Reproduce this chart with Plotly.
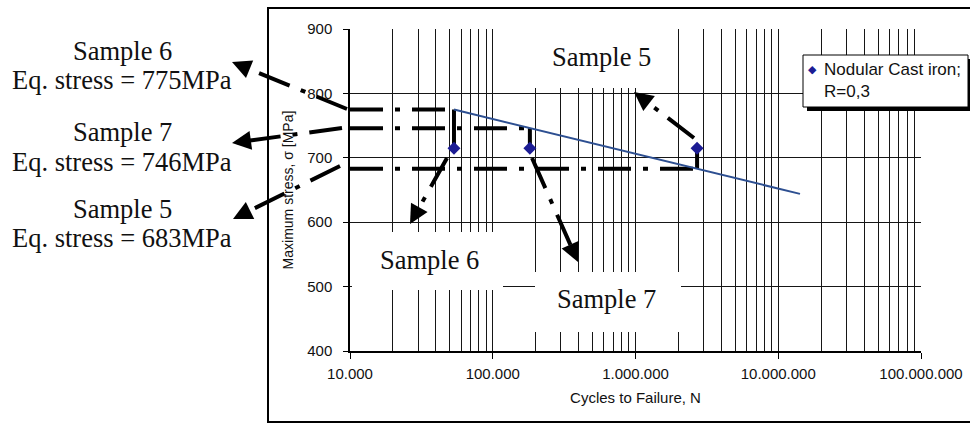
import plotly.graph_objects as go

# ---------------- data ----------------
sample_names = ["Sample 6", "Sample 7", "Sample 5"]
cycles_to_failure = [53500, 182000, 2700000]
max_stress = [715, 715, 715]
eq_stress = [775, 746, 683]
trend_cycles = [53500, 14200000]
trend_stress = [775, 644]
x_tick_vals = [1e4, 1e5, 1e6, 1e7, 1e8]
x_tick_text = ["10.000", "100.000", "1.000.000", "10.000.000", "100.000.000"]
y_tick_vals = [400, 500, 600, 700, 800, 900]
series_name = ["Nodular Cast iron;", "R=0,3"]
x_title = "Cycles to Failure, N"
y_title = "Maximum stress, σ [MPa]"

# ---------------- layout helpers (pixel -> paper) ----------------
W, H = 970, 425
L, R, T, B = 350, 921, 29, 351


def px(x):
    return (x - L) / (R - L)


def py(y):
    return (B - y) / (B - T)


DASHDOT = "33px,12px,5px,12px"
GRID = "#161616"
SANS = "Liberation Sans, Arial, sans-serif"
SERIF = "Liberation Serif, Times New Roman, serif"
MARKER_COLOR = "#1c1c94"

fig = go.Figure()

# equivalent-stress reference lines
for n, eq, mx in zip(cycles_to_failure, eq_stress, max_stress):
    fig.add_trace(go.Scatter(x=[x_tick_vals[0], n], y=[eq, eq], mode="lines",
                             line=dict(color="black", width=4, dash=DASHDOT),
                             showlegend=False, hoverinfo="skip"))
    fig.add_trace(go.Scatter(x=[n, n], y=[eq, mx], mode="lines",
                             line=dict(color="black", width=4),
                             showlegend=False, hoverinfo="skip"))

# trend line
fig.add_trace(go.Scatter(x=trend_cycles, y=trend_stress, mode="lines",
                         line=dict(color="#2d4f91", width=2),
                         showlegend=False, hoverinfo="skip"))

# data points
fig.add_trace(go.Scatter(x=cycles_to_failure, y=max_stress, mode="markers",
                         marker=dict(symbol="diamond", size=10, color=MARKER_COLOR),
                         name=" ".join(series_name), text=sample_names,
                         showlegend=False))

shapes = []
annotations = []

# white boxes behind in-plot labels (hide gridlines)
for (x0, x1, y0, y1) in [(525, 678, 26, 88), (352, 503, 232, 290), (535, 681, 272, 332)]:
    shapes.append(dict(type="rect", xref="paper", yref="paper",
                       x0=px(x0), x1=px(x1), y0=py(y1), y1=py(y0),
                       line=dict(width=0), fillcolor="white", layer="above"))

# outer frame
shapes.append(dict(type="rect", xref="paper", yref="paper",
                   x0=px(268), x1=px(975), y0=py(422), y1=py(8),
                   line=dict(color="black", width=2), fillcolor="rgba(0,0,0,0)",
                   layer="above"))

# legend box with shadow
shapes.append(dict(type="rect", xref="paper", yref="paper",
                   x0=px(807), x1=px(975), y0=py(111), y1=py(59),
                   line=dict(width=0), fillcolor="black", layer="above"))
shapes.append(dict(type="rect", xref="paper", yref="paper",
                   x0=px(803), x1=px(968), y0=py(107), y1=py(55),
                   line=dict(color="black", width=1), fillcolor="white", layer="above"))
annotations.append(dict(x=px(812), y=py(69), xref="paper", yref="paper",
                        text="◆", showarrow=False, xanchor="center", yanchor="middle",
                        font=dict(family="DejaVu Sans", size=11, color=MARKER_COLOR)))
for txt, yy in zip(series_name, [69, 91]):
    annotations.append(dict(x=px(822), y=py(yy), xref="paper", yref="paper",
                            text=txt, showarrow=False, xanchor="left", yanchor="middle",
                            font=dict(family=SANS, size=17, color="#111")))

# dash-dot arrows (tail -> head) in pixels
arrows = [
    ((347, 109), (232, 62)),
    ((342, 128), (232, 143)),
    ((340, 166), (233, 219)),
    ((447, 158), (410, 224)),
    ((532, 158), (578, 262)),
    ((694, 138), (634, 92)),
]
for (tx, ty), (hx, hy) in arrows:
    dx, dy = tx - hx, ty - hy
    d = (dx * dx + dy * dy) ** 0.5
    ux, uy = dx / d, dy / d
    ex, ey = hx + ux * 10, hy + uy * 10
    shapes.append(dict(type="line", xref="paper", yref="paper",
                       x0=px(tx), y0=py(ty), x1=px(ex), y1=py(ey),
                       line=dict(color="black", width=4, dash=DASHDOT),
                       layer="above"))
    annotations.append(dict(x=px(hx), y=py(hy), xref="paper", yref="paper",
                            ax=ux * 16, ay=uy * 16, text="", showarrow=True,
                            arrowhead=2, arrowsize=0.95, arrowwidth=4,
                            arrowcolor="black"))

# left labels
left_labels = [
    ("Sample 6", 51), ("Eq. stress = 775MPa", 80),
    ("Sample 7", 132), ("Eq. stress = 746MPa", 162),
    ("Sample 5", 209), ("Eq. stress = 683MPa", 238),
]
for txt, yy in left_labels:
    annotations.append(dict(x=px(122), y=py(yy), xref="paper", yref="paper",
                            text=txt, showarrow=False, xanchor="center", yanchor="middle",
                            font=dict(family=SERIF, size=26.5, color="#111")))

# in-plot labels
for txt, (xx, yy) in [("Sample 5", (601, 57)), ("Sample 6", (429, 260)), ("Sample 7", (606, 299))]:
    annotations.append(dict(x=px(xx), y=py(yy), xref="paper", yref="paper",
                            text=txt, showarrow=False, xanchor="center", yanchor="middle",
                            font=dict(family=SERIF, size=26.5, color="#111")))

fig.update_layout(
    width=W, height=H,
    margin=dict(l=L, r=W - R, t=T, b=H - B, autoexpand=False),
    paper_bgcolor="white", plot_bgcolor="white",
    font=dict(family=SANS, color="#111"),
    shapes=shapes, annotations=annotations,
    showlegend=False,
    xaxis=dict(type="log", range=[4, 8], tickmode="array",
               tickvals=x_tick_vals, ticktext=x_tick_text,
               showgrid=True, gridcolor=GRID, gridwidth=1.2,
               minor=dict(dtick="D1", showgrid=True, gridcolor=GRID, gridwidth=1.2, ticks=""),
               ticks="outside", ticklen=6, tickcolor="black", tickwidth=1.3,
               showline=True, linecolor="black", linewidth=1.5,
               tickfont=dict(family=SANS, size=15, color="#111"),
               ticklabelstandoff=2, automargin=False,
               title=dict(text=x_title, font=dict(family=SANS, size=15, color="#111"), standoff=12),
               zeroline=False),
    yaxis=dict(range=[400, 900], tickmode="array", tickvals=y_tick_vals,
               showgrid=True, gridcolor=GRID, gridwidth=1.2,
               ticks="outside", ticklen=5, tickcolor="black", tickwidth=1.3,
               showline=True, linecolor="black", linewidth=1.5,
               tickfont=dict(family=SANS, size=15, color="#111"),
               ticklabelstandoff=8, automargin=False,
               title=dict(text=y_title, font=dict(family=SANS, size=14, color="#111"), standoff=10),
               zeroline=False),
)

fig.write_html("out.html")
